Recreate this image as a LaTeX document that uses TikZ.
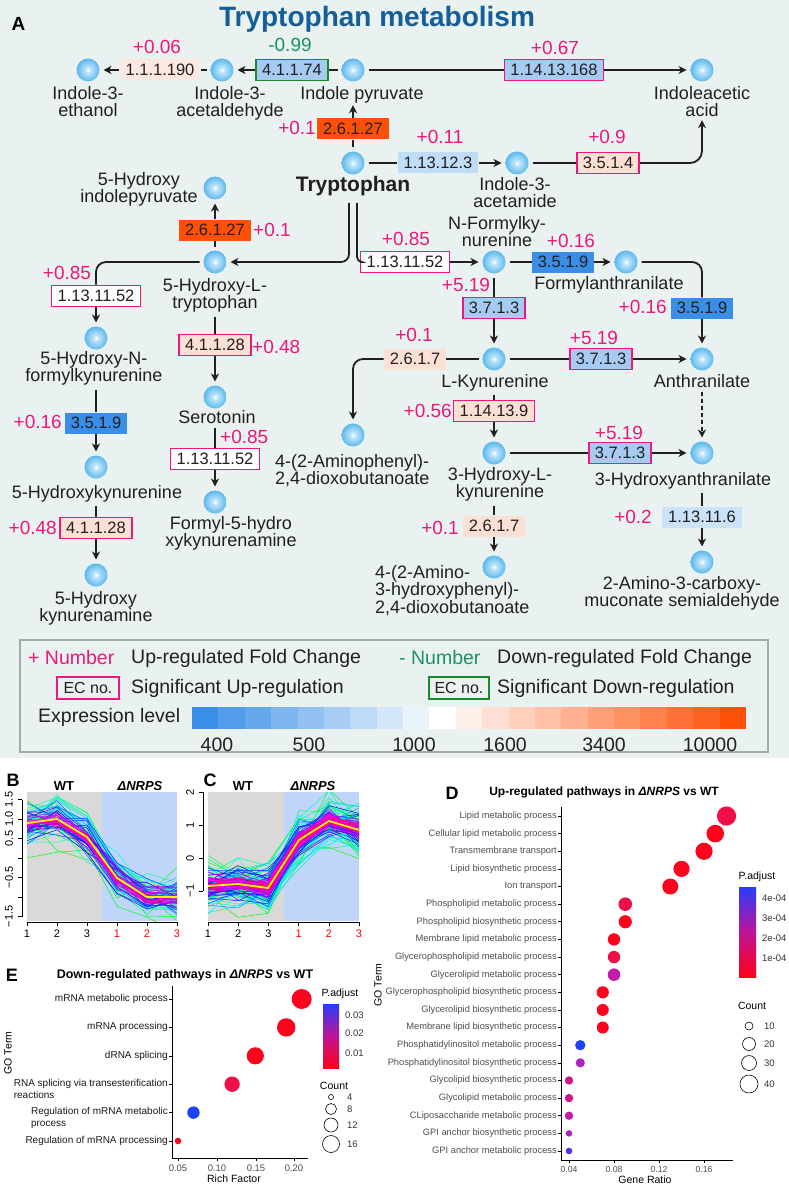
\documentclass[tikz,border=0pt]{standalone}
\usepackage{fontspec}
\setmainfont{Liberation Sans}
\usepackage{tikz}
\usepackage{xcolor}
\usetikzlibrary{arrows.meta}

\definecolor{bgA}{RGB}{233,242,240}
\definecolor{lgbord}{RGB}{165,170,170}
\definecolor{upc}{RGB}{236,24,124}
\definecolor{dnc}{RGB}{25,145,105}
\definecolor{dngreen}{RGB}{24,140,40}
\definecolor{ttl}{RGB}{21,94,152}
\definecolor{ink}{RGB}{35,31,32}
\definecolor{eOr}{RGB}{255,80,8}
\definecolor{ePk}{RGB}{252,224,212}
\definecolor{ePkL}{RGB}{252,232,224}
\definecolor{eLb}{RGB}{166,203,242}
\definecolor{eLb2}{RGB}{192,221,248}
\definecolor{eLb3}{RGB}{202,227,249}
\definecolor{eBl}{RGB}{58,142,232}
\definecolor{ballhi}{RGB}{190,228,250}
\definecolor{ballmid}{RGB}{80,180,235}
\definecolor{ballout}{RGB}{36,142,212}
\definecolor{pgrey}{RGB}{217,217,217}
\definecolor{pblue}{RGB}{191,214,250}
\definecolor{gtxt}{RGB}{77,77,77}
\definecolor{dA}{RGB}{255,2,30}
\definecolor{dB}{RGB}{240,14,70}
\definecolor{dC}{RGB}{208,20,140}
\definecolor{dC2}{RGB}{195,28,168}
\definecolor{dD}{RGB}{170,36,190}
\definecolor{dE}{RGB}{30,65,250}
\definecolor{dF}{RGB}{85,45,235}
\definecolor{pbl}{RGB}{40,60,255}
\definecolor{pmid}{RGB}{190,20,150}
\definecolor{pred}{RGB}{255,0,25}

\pgfdeclareradialshading{ballsh}{\pgfpoint{0bp}{0bp}}{color(0bp)=(white);color(6bp)=(ballhi);color(27bp)=(ballmid);color(50bp)=(ballout)}

\newcommand{\Mfont}{\fontsize{18}{17.5}\selectfont}
\newcommand{\Efont}{\fontsize{16.5}{18}\selectfont}
\newcommand{\Vfont}{\fontsize{19}{20}\selectfont}
\newcommand{\Lfont}{\fontsize{19.5}{20}\selectfont}
\newcommand{\Afont}{\fontsize{11}{12}\selectfont}
\newcommand{\Dfont}{\fontsize{9.3}{11}\selectfont}
\newcommand{\Tfont}{\fontsize{10.5}{12}\selectfont}

\begin{document}
\begin{tikzpicture}[x=1pt,y=-1pt,
  met/.style={circle,minimum size=23pt,inner sep=0pt,outer sep=4pt,shading=ballsh},
  lab/.style={font=\Mfont,align=center,inner sep=0pt,anchor=north,text=ink},
  ec/.style={font=\Efont,inner sep=0pt,inner xsep=6pt,minimum height=21pt,text=ink,fill=#1},
  ec/.default=white,
  upbox/.style={draw=upc,line width=1.7pt},
  dnbox/.style={draw=dngreen,line width=1.7pt},
  fc/.style={font=\Vfont,text=upc,inner sep=0pt},
  rl/.style={draw=ink,line width=1.8pt},
  ra/.style={rl,-{Stealth[length=8pt,width=8pt,inset=2.5pt]}},
  frl/.style={shorten <=4pt},
  leg/.style={font=\Lfont,inner sep=0pt,anchor=west,text=ink},
  axs/.style={draw=black,line width=0.6pt},
  ptx/.style={font=\Afont,inner sep=0pt},
  dlab/.style={font=\Dfont,text=gtxt,inner sep=0pt},
  elab/.style={font=\fontsize{10}{12}\selectfont,text=black!90,inner sep=0pt}]
\useasboundingbox (0,0) rectangle (789,1185);

%% A: tryptophan metabolism
\fill[bgA] (0,0) rectangle (789,758);
\node[font=\bfseries\fontsize{28}{30}\selectfont,text=ttl,inner sep=0pt] (title) at (377,19) {Tryptophan metabolism};
\node[font=\bfseries\fontsize{19}{20}\selectfont,inner sep=0pt] (pA) at (18.5,23.5) {A};

% metabolites
\node[met] (ieth) at (88,70) {};
\node[met] (iald) at (222,70) {};
\node[met] (ipyr) at (353,70) {};
\node[met] (iaa) at (702,70) {};
\node[met] (trp) at (353,163) {};
\node[met] (iam) at (517,163) {};
\node[met] (hip) at (215,188) {};
\node[met] (htp) at (215,262) {};
\node[met] (nfk) at (494,262) {};
\node[met] (fan) at (626,262) {};
\node[met] (hnfk) at (96,338) {};
\node[met] (ser) at (215,397) {};
\node[met] (hkyn) at (96,467) {};
\node[met] (fhk) at (215,502) {};
\node[met] (hkna) at (96,575) {};
\node[met] (apd) at (353,435) {};
\node[met] (lkyn) at (494,359) {};
\node[met] (ant) at (702,359) {};
\node[met] (hkyn3) at (494,453) {};
\node[met] (haa) at (702,453) {};
\node[met] (ahd) at (494,567) {};
\node[met] (acms) at (702,562) {};

\node[lab] (lieth) at (88,86) {Indole-3-\\ethanol};
\node[lab] (liald) at (230,86) {Indole-3-\\acetaldehyde};
\node[lab] (lipyr) at (362,86) {Indole pyruvate};
\node[lab] (liaa) at (702,86) {Indoleacetic\\acid};
\node[lab,font=\bfseries\fontsize{21}{22}\selectfont] (ltrp) at (353,176) {Tryptophan};
\node[lab] (liam) at (515,177) {Indole-3-\\acetamide};
\node[lab] (lhip) at (139,172) {5-Hydroxy\\indolepyruvate};
\node[lab] (lhtp) at (215,278) {5-Hydroxy-L-\\tryptophan};
\node[lab] (lnfk) at (497,216) {N-Formylky-\\nurenine};
\node[lab] (lfan) at (609,276) {Formylanthranilate};
\node[lab] (lhnfk) at (94,351) {5-Hydroxy-N-\\formylkynurenine};
\node[lab] (lser) at (217,410) {Serotonin};
\node[lab] (lhkyn) at (97,485) {5-Hydroxykynurenine};
\node[lab] (lfhk) at (231,516) {Formyl-5-hydro\\xykynurenamine};
\node[lab] (lhkna) at (96,591) {5-Hydroxy\\kynurenamine};
\node[lab,anchor=north west,align=left] (lapd) at (275,454) {4-(2-Aminophenyl)-\\2,4-dioxobutanoate};
\node[lab] (llkyn) at (495,374) {L-Kynurenine};
\node[lab] (lant) at (702,374) {Anthranilate};
\node[lab] (lhkyn3) at (500,467) {3-Hydroxy-L-\\kynurenine};
\node[lab] (lhaa) at (683,472) {3-Hydroxyanthranilate};
\node[lab,anchor=north west,align=left] (lahd) at (375,565) {4-(2-Amino-\\3-hydroxyphenyl)-\\2,4-dioxobutanoate};
\node[lab] (lacms) at (682,576) {2-Amino-3-carboxy-\\muconate semialdehyde};

% enzymes
\node[ec=ePkL] (e11190) at (160,70) {1.1.1.190};
\node[ec=eLb,dnbox] (e41174) at (292,70) {4.1.1.74};
\node[ec=eOr] (e261ip) at (353,129) {2.6.1.27};
\node[ec=eLb,upbox] (e1413168) at (554,70) {1.14.13.168};
\node[ec=eLb2] (e11312) at (438,163) {1.13.12.3};
\node[ec=ePk,upbox] (e3514) at (608,163) {3.5.1.4};
\node[ec=eOr] (e261hp) at (215,230) {2.6.1.27};
\node[ec,upbox] (e11352a) at (405,262) {1.13.11.52};
\node[ec,upbox] (e11352b) at (96,296) {1.13.11.52};
\node[ec=eBl] (e3519a) at (563,262) {3.5.1.9};
\node[ec=eLb,upbox] (e3713a) at (494,308) {3.7.1.3};
\node[ec=eBl] (e3519b) at (702,308) {3.5.1.9};
\node[ec=ePk] (e2617a) at (415,359) {2.6.1.7};
\node[ec=eLb,upbox] (e3713b) at (601,359) {3.7.1.3};
\node[ec=ePk,upbox] (e141139) at (494,411) {1.14.13.9};
\node[ec=eLb,upbox] (e3713c) at (620,453) {3.7.1.3};
\node[ec=ePk] (e2617b) at (494,526) {2.6.1.7};
\node[ec=eLb3] (e113116) at (702,517) {1.13.11.6};
\node[ec=ePk,upbox] (e41128a) at (215,345) {4.1.1.28};
\node[ec=eBl] (e3519c) at (96,423) {3.5.1.9};
\node[ec,upbox] (e11352c) at (215,459) {1.13.11.52};
\node[ec=ePk,upbox] (e41128b) at (96,528) {4.1.1.28};

% fold changes
\node[fc] (v11190) at (157,47) {+0.06};
\node[fc,text=dnc] (v41174) at (290,45) {-0.99};
\node[fc,anchor=east] (v261ip) at (316,128) {+0.1};
\node[fc] (v1413168) at (555,48) {+0.67};
\node[fc] (v11312) at (440,137) {+0.11};
\node[fc] (v3514) at (607,137) {+0.9};
\node[fc,anchor=west] (v261hp) at (253,230) {+0.1};
\node[fc] (v11352a) at (406,239) {+0.85};
\node[fc] (v11352b) at (67,273) {+0.85};
\node[fc] (v3519a) at (571,241) {+0.16};
\node[fc] (v3713a) at (466,285) {+5.19};
\node[fc,anchor=east] (v3519b) at (667,307) {+0.16};
\node[fc] (v2617a) at (414,335) {+0.1};
\node[fc] (v3713b) at (594,338) {+5.19};
\node[fc,anchor=east] (v141139) at (452,411) {+0.56};
\node[fc] (v3713c) at (619,433) {+5.19};
\node[fc,anchor=east] (v2617b) at (459,528) {+0.1};
\node[fc,anchor=east] (v113116) at (652,517) {+0.2};
\node[fc,anchor=west] (v41128a) at (252,347) {+0.48};
\node[fc,anchor=east] (v3519c) at (62,422) {+0.16};
\node[fc,anchor=west] (v11352c) at (220,437) {+0.85};
\node[fc,anchor=east] (v41128b) at (57,528) {+0.48};

% reactions
\draw[rl] (ipyr) -- (e41174);
\draw[ra] (e41174) -- (iald);
\draw[rl] (iald) -- (e11190);
\draw[ra] (e11190) -- (ieth);
\draw[rl] (ipyr) -- (e1413168);
\draw[ra] (e1413168) -- (iaa);
\draw[rl] (trp) -- (e261ip);
\draw[ra,shorten >=2pt] (e261ip) -- (e261ip |- lipyr.south);
\draw[rl] (trp) -- (e11312);
\draw[ra] (e11312) -- (iam);
\draw[rl] (iam) -- (e3514);
\draw[ra,rounded corners=12pt,shorten >=3pt] (e3514) -| (liaa);
\coordinate (trpL) at ([xshift=-4pt,yshift=-7pt]ltrp.south);
\coordinate (trpR) at ([xshift=4pt,yshift=-7pt]ltrp.south);
\draw[ra,rounded corners=8pt] (trpL) |- (htp);
\draw[rl,rounded corners=5pt] (trpR) |- (e11352a);
\draw[ra] (e11352a) -- (nfk);
\draw[rl] (htp) -- (e261hp);
\draw[ra] (e261hp) -- (hip);
\draw[rl,rounded corners=10pt] (htp) -| (e11352b);
\draw[ra] (e11352b) -- (hnfk);
\draw[rl,frl] (e3519c |- lhnfk.south) -- (e3519c);
\draw[ra] (e3519c) -- (hkyn);
\draw[rl,frl] (e41128b |- lhkyn.south) -- (e41128b);
\draw[ra] (e41128b) -- (hkna);
\draw[rl,frl] (e41128a |- lhtp.south) -- (e41128a);
\draw[ra] (e41128a) -- (ser);
\draw[rl,frl] (e11352c |- lser.south) -- (e11352c);
\draw[ra] (e11352c) -- (fhk);
\draw[rl] (nfk) -- (e3519a);
\draw[ra] (e3519a) -- (fan);
\draw[rl,rounded corners=10pt] (fan) -| (e3519b);
\draw[ra] (e3519b) -- (ant);
\draw[rl] (nfk) -- (e3713a);
\draw[ra] (e3713a) -- (lkyn);
\draw[rl] (lkyn) -- (e2617a);
\draw[ra,rounded corners=10pt] (e2617a) -| (apd);
\draw[rl] (lkyn) -- (e3713b);
\draw[ra] (e3713b) -- (ant);
\draw[rl,frl] (e141139 |- llkyn.south) -- (e141139);
\draw[ra] (e141139) -- (hkyn3);
\draw[rl] (hkyn3) -- (e3713c);
\draw[ra] (e3713c) -- (haa);
\draw[ra,frl,dash pattern=on 4pt off 3pt] (lant) -- (haa);
\draw[rl,frl] (e2617b |- lhkyn3.south) -- (e2617b);
\draw[ra] (e2617b) -- (ahd);
\draw[rl,frl] (e113116 |- lhaa.south) -- (e113116);
\draw[ra] (e113116) -- (acms);

% legend
\filldraw[fill=bgA,draw=lgbord,line width=1.2pt] (20,640) rectangle (768,752);
\node[leg,text=upc] (lgp) at (28,658) {+ Number};
\node[leg] (lgpt) at (131,658) {Up-regulated Fold Change};
\node[leg,text=dnc] (lgm) at (399,658) {- Number};
\node[leg] (lgmt) at (497,658) {Down-regulated Fold Change};
\node[leg,anchor=center,upbox,minimum width=62pt,minimum height=22pt,font=\fontsize{16}{18}\selectfont] (lgub) at (88,688) {EC no.};
\node[leg] (lgut) at (131,688) {Significant Up-regulation};
\node[leg,anchor=center,dnbox,minimum width=60pt,minimum height=22pt,font=\fontsize{16}{18}\selectfont] (lgdb) at (459,688) {EC no.};
\node[leg] (lgdt) at (497,688) {Significant Down-regulation};
\node[leg] (lgex) at (38,717) {Expression level};
\foreach \i in {0,...,8}{
  \pgfmathtruncatemacro{\pb}{100-\i*100/9}
  \fill[eBl!\pb!white] ({192+26.38*\i},707) rectangle ({192+26.38*(\i+1)},729);
}
\fill[white] ({192+26.38*9},707) rectangle ({192+26.38*10},729);
\foreach \i in {10,...,20}{
  \pgfmathtruncatemacro{\po}{(\i-9)*100/11}
  \fill[eOr!\po!white] ({192+26.38*\i},707) rectangle ({192+26.38*(\i+1)},729);
}
\foreach \x/\t [count=\n] in {217/400,309/500,414/1000,505/1600,604/3400,710/10000}
  \node[leg,anchor=center] (lgn\n) at (\x,745) {\t};

%% B
\node[font=\bfseries\fontsize{18}{20}\selectfont,inner sep=0pt] (pB) at (13,780) {B};
\fill[pgrey] (27,792) rectangle (102,921);
\fill[pblue] (102,792) rectangle (177,921);
\pgfmathsetseed{42}
\begin{scope}
\clip (27,792) rectangle (177,921);
\foreach \i in {0,...,79}{
  \pgfmathsetmacro{\lnT}{\i/79}
  \pgfmathtruncatemacro{\lnH}{120+215*\lnT}
  \pgfmathsetmacro{\lnA}{30*(1-\lnT)+4}
  \pgfmathsetmacro{\lnO}{0.5*\lnA*rand}
  \definecolor{lc}{Hsb}{\lnH,1,1}
  \pgfmathsetmacro{\ya}{823+\lnO+0.7*\lnA*rand}
  \pgfmathsetmacro{\yb}{819+\lnO+0.7*\lnA*rand}
  \pgfmathsetmacro{\yc}{837+\lnO+0.7*\lnA*rand}
  \pgfmathsetmacro{\yd}{878+\lnO+0.7*\lnA*rand}
  \pgfmathsetmacro{\ye}{897+\lnO+0.7*\lnA*rand}
  \pgfmathsetmacro{\yf}{897+\lnO+0.7*\lnA*rand}
  \draw[lc,line width=0.5pt] (27,\ya) -- (57,\yb) -- (87,\yc) -- (117,\yd) -- (147,\ye) -- (177,\yf);
}
\draw[yellow,line width=1.8pt] (27,823) -- (57,819) -- (87,837) -- (117,878) -- (147,897) -- (177,897);
\end{scope}
\node[font=\bfseries\fontsize{13}{14}\selectfont,inner sep=0pt] (bwt) at (64,786) {WT};
\node[font=\bfseries\itshape\fontsize{13}{14}\selectfont,inner sep=0pt] (bnr) at (140,786) {ΔNRPS};
\draw[axs] (22,799.5) -- (22,916.5);
\foreach \v in {1.5,1,0.5,0,-0.5,-1,-1.5}
  \draw[axs] (22,{858-39*\v}) -- (18,{858-39*\v});
\foreach \v/\t [count=\n] in {1.5/1.5,1/1.0,0.5/0.5,-0.5/−0.5,-1.5/−1.5}
  \node[ptx,rotate=90] (byl\n) at (9,{858-39*\v}) {\t};
\draw[axs] (27,922) -- (177,922);
\foreach \x/\t/\c [count=\n] in {27/1/black,57/2/black,87/3/black,117/1/red,147/2/red,177/3/red}{
  \draw[axs] (\x,922) -- (\x,926);
  \node[ptx,text=\c] (bxl\n) at (\x,934) {\t};
}

%% C
\node[font=\bfseries\fontsize{18}{20}\selectfont,inner sep=0pt] (pC) at (210,780) {C};
\fill[pgrey] (208,792) rectangle (284,921);
\fill[pblue] (284,792) rectangle (359,921);
\pgfmathsetseed{7}
\begin{scope}
\clip (208,792) rectangle (359,921);
\foreach \i in {0,...,129}{
  \pgfmathsetmacro{\lnT}{\i/129}
  \pgfmathtruncatemacro{\lnH}{120+215*\lnT}
  \pgfmathsetmacro{\lnA}{28*(1-\lnT)+5}
  \pgfmathsetmacro{\lnO}{0.5*\lnA*rand}
  \definecolor{lc}{Hsb}{\lnH,1,1}
  \pgfmathsetmacro{\ya}{886+\lnO+0.7*\lnA*rand}
  \pgfmathsetmacro{\yb}{884+\lnO+0.7*\lnA*rand}
  \pgfmathsetmacro{\yc}{888+\lnO+0.7*\lnA*rand}
  \pgfmathsetmacro{\yd}{840+\lnO+0.7*\lnA*rand}
  \pgfmathsetmacro{\ye}{821+\lnO+0.7*\lnA*rand}
  \pgfmathsetmacro{\yf}{830+\lnO+0.7*\lnA*rand}
  \draw[lc,line width=0.5pt] (208,\ya) -- (238,\yb) -- (268,\yc) -- (299,\yd) -- (329,\ye) -- (359,\yf);
}
\draw[yellow,line width=1.8pt] (208,886) -- (238,884) -- (268,888) -- (299,840) -- (329,821) -- (359,830);
\end{scope}
\node[font=\bfseries\fontsize{13}{14}\selectfont,inner sep=0pt] (cwt) at (243,786) {WT};
\node[font=\bfseries\itshape\fontsize{13}{14}\selectfont,inner sep=0pt] (cnr) at (313,786) {ΔNRPS};
\draw[axs] (203,792) -- (203,891);
\foreach \v/\t [count=\n] in {2/2,1/1,0/0,-1/−1}{
  \draw[axs] (203,{858-33*\v}) -- (199,{858-33*\v});
  \node[ptx,rotate=90] (cyl\n) at (190,{858-33*\v}) {\t};
}
\draw[axs] (208,922) -- (359,922);
\foreach \x/\t/\c [count=\n] in {208/1/black,238.2/2/black,268.4/3/black,298.6/1/red,328.8/2/red,359/3/red}{
  \draw[axs] (\x,922) -- (\x,926);
  \node[ptx,text=\c] (cxl\n) at (\x,934) {\t};
}

%% D
\node[font=\bfseries\fontsize{18}{20}\selectfont,inner sep=0pt] (pD) at (452,793) {D};
\node[font=\bfseries\fontsize{12}{14}\selectfont,inner sep=0pt] (dtitle) at (604,792) {Up-regulated pathways in \textit{ΔNRPS} vs WT};
\draw[axs] (561,807) -- (561,1160) -- (733,1160);
\foreach \k/\gr/\rr/\cc/\tx in {
  0/0.18/9.6/dB/Lipid metabolic process,
  1/0.17/8.8/dA/Cellular lipid metabolic process,
  2/0.16/8.6/dA/Transmembrane transport,
  3/0.14/8.1/dA/Lipid biosynthetic process,
  4/0.13/8.0/dA/Ion transport,
  5/0.09/6.8/dB/Phospholipid metabolic process,
  6/0.09/6.6/dA/Phospholipid biosynthetic process,
  7/0.08/6.2/dA/Membrane lipid metabolic process,
  8/0.08/6.2/dB/Glycerophospholipid metabolic process,
  9/0.08/6.3/dC2/Glycerolipid metabolic process,
  10/0.07/6.1/dA/Glycerophospholipid biosynthetic process,
  11/0.07/6.0/dA/Glycerolipid biosynthetic process,
  12/0.07/6.0/dA/Membrane lipid biosynthetic process,
  13/0.05/5.2/dE/Phosphatidylinositol metabolic process,
  14/0.05/4.6/dD/Phosphatidylinositol biosynthetic process,
  15/0.04/4.2/dC/Glycolipid biosynthetic process,
  16/0.04/4.2/dC/Glycolipid metabolic process,
  17/0.04/4.2/dC2/CLiposaccharide metabolic process,
  18/0.04/3.3/dD/GPI anchor biosynthetic process,
  19/0.04/3.3/dF/GPI anchor metabolic process}{
  \pgfmathsetmacro{\yy}{816+17.63*\k}
  \draw[axs] (558,\yy) -- (561,\yy);
  \node[dlab,anchor=east] (dt\k) at (557,\yy) {\tx};
  \fill[\cc] ({569+1125*(\gr-0.04)},\yy) circle (\rr pt);
}
\foreach \x/\t [count=\n] in {569/0.04,614/0.08,659/0.12,704/0.16}{
  \draw[axs] (\x,1160) -- (\x,1163);
  \node[dlab,font=\fontsize{8.7}{10}\selectfont] (dxl\n) at (\x,1169) {\t};
}
\node[font=\Tfont,inner sep=0pt] (dxt) at (645,1180) {Gene Ratio};
\node[font=\Tfont,inner sep=0pt,rotate=90] (dyt) at (378,985) {GO Term};
\node[font=\Tfont,inner sep=0pt] (dpa) at (757,877) {P.adjust};
\shade[top color=pbl,bottom color=pred,middle color=pmid] (739,887) rectangle (756,977);
\foreach \y/\t [count=\n] in {898/4e-04,918/3e-04,938/2e-04,958/1e-04}
  \node[dlab,text=black!80,font=\fontsize{9.5}{11}\selectfont,anchor=west] (dpl\n) at (762,\y) {\t};
\node[font=\Tfont,inner sep=0pt] (dct) at (752,1006) {Count};
\foreach \y/\r/\t [count=\n] in {1026/4/10,1044/6.5/20,1063/7.5/30,1084/9/40}{
  \draw[black,line width=0.6pt] (749,\y) circle (\r pt);
  \node[dlab,text=black!80,font=\fontsize{9.5}{11}\selectfont,anchor=west] (dcl\n) at (764,\y) {\t};
}

%% E
\node[font=\bfseries\fontsize{18}{20}\selectfont,inner sep=0pt] (pE) at (12,975) {E};
\node[font=\bfseries\fontsize{12.5}{14}\selectfont,inner sep=0pt] (etitle) at (185,975) {Down-regulated pathways in \textit{ΔNRPS} vs WT};
\draw[axs] (172,986) -- (172,1158) -- (308,1158);
\foreach \k/\gr/\rr/\cc in {0/0.21/10/dA,1/0.19/9.2/dA,2/0.15/8.6/dA,3/0.12/7.7/dB,4/0.07/6.2/dE,5/0.05/3.3/dA}{
  \pgfmathsetmacro{\yy}{999+28.4*\k}
  \draw[axs] (169,\yy) -- (172,\yy);
  \fill[\cc] ({178+773*(\gr-0.05)},\yy) circle (\rr pt);
}
\node[elab,anchor=east] (et1) at (168,999) {mRNA metabolic process};
\node[elab,anchor=east] (et2) at (168,1027.4) {mRNA processing};
\node[elab,anchor=east] (et3) at (168,1055.8) {dRNA splicing};
\node[elab,anchor=north east,align=left] (et4) at (168,1079) {RNA splicing via transesterification\\reactions};
\node[elab,anchor=north east,align=left] (et5) at (168,1107) {Regulation of mRNA metabolic\\process};
\node[elab,anchor=east] (et6) at (168,1141) {Regulation of mRNA processing};
\foreach \x/\t [count=\n] in {178/0.05,217/0.10,256/0.15,294/0.20}{
  \draw[axs] (\x,1158) -- (\x,1161);
  \node[dlab,font=\fontsize{9.5}{11}\selectfont] (exl\n) at (\x,1168) {\t};
}
\node[font=\Tfont,inner sep=0pt] (ext) at (234,1179) {Rich Factor};
\node[font=\Tfont,inner sep=0pt,rotate=90] (eyt) at (8,1053) {GO Term};
\node[font=\Tfont,inner sep=0pt] (epa) at (340,994) {P.adjust};
\shade[top color=pbl,bottom color=pred,middle color=pmid] (323,1004) rectangle (339,1068);
\foreach \y/\t [count=\n] in {1015/0.03,1033/0.02,1053/0.01}
  \node[dlab,text=black!80,font=\fontsize{9.5}{11}\selectfont,anchor=west] (epl\n) at (345,\y) {\t};
\node[font=\Tfont,inner sep=0pt] (ect) at (334,1086) {Count};
\foreach \y/\r/\t [count=\n] in {1097/2.5/4,1109/5.5/8,1125/7/12,1144/8.5/16}{
  \draw[black,line width=0.6pt] (331,\y) circle (\r pt);
  \node[dlab,text=black!80,font=\fontsize{9.5}{11}\selectfont,anchor=west] (ecl\n) at (347,\y) {\t};
}
\end{tikzpicture}
\end{document}
